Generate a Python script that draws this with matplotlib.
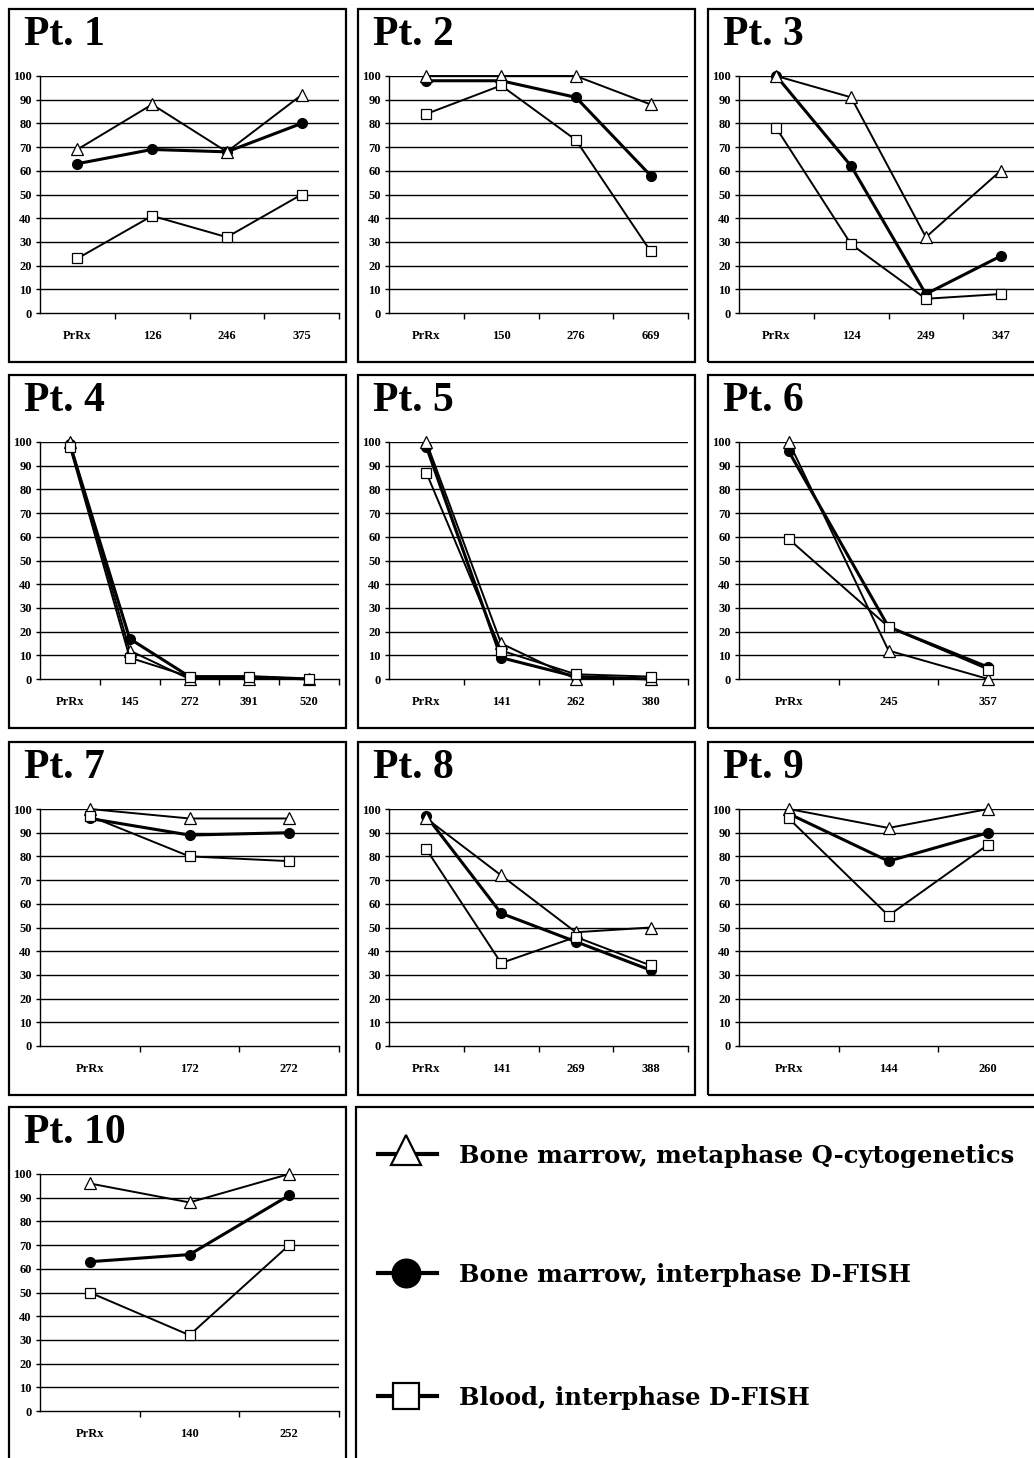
import matplotlib
matplotlib.use("Agg")
import matplotlib.pyplot as plt
from matplotlib.lines import Line2D
from matplotlib.patches import Rectangle

W, H, DPI = 1034, 1458, 100
SERIF = ["Liberation Serif", "DejaVu Serif"]
WIDE_SERIF = ["DejaVu Serif", "Liberation Serif"]

# --- data (percent of abnormal cells) --------------------------------------
PT1_X = ["PrRx", "126", "246", "375"]
PT1_TRI = [69, 88, 68, 92]
PT1_DOT = [63, 69, 68, 80]
PT1_SQ = [23, 41, 32, 50]

PT2_X = ["PrRx", "150", "276", "669"]
PT2_TRI = [100, 100, 100, 88]
PT2_DOT = [98, 98, 91, 58]
PT2_SQ = [84, 96, 73, 26]

PT3_X = ["PrRx", "124", "249", "347"]
PT3_TRI = [100, 91, 32, 60]
PT3_DOT = [100, 62, 8, 24]
PT3_SQ = [78, 29, 6, 8]

PT4_X = ["PrRx", "145", "272", "391", "520"]
PT4_TRI = [100, 12, 0, 0, 0]
PT4_DOT = [99, 17, 1, 1, 0]
PT4_SQ = [98, 9, 1, 1, 0]

PT5_X = ["PrRx", "141", "262", "380"]
PT5_TRI = [100, 15, 0, 0]
PT5_DOT = [98, 9, 1, 0]
PT5_SQ = [87, 12, 2, 1]

PT6_X = ["PrRx", "245", "357"]
PT6_TRI = [100, 12, 0]
PT6_DOT = [96, 22, 5]
PT6_SQ = [59, 22, 4]

PT7_X = ["PrRx", "172", "272"]
PT7_TRI = [100, 96, 96]
PT7_DOT = [96, 89, 90]
PT7_SQ = [97, 80, 78]

PT8_X = ["PrRx", "141", "269", "388"]
PT8_TRI = [96, 72, 48, 50]
PT8_DOT = [97, 56, 44, 32]
PT8_SQ = [83, 35, 46, 34]

PT9_X = ["PrRx", "144", "260"]
PT9_TRI = [100, 92, 100]
PT9_DOT = [98, 78, 90]
PT9_SQ = [96, 55, 85]

PT10_X = ["PrRx", "140", "252"]
PT10_TRI = [96, 88, 100]
PT10_DOT = [63, 66, 91]
PT10_SQ = [50, 32, 70]

LEGEND_LABELS = [
    "Bone marrow, metaphase Q-cytogenetics",
    "Bone marrow, interphase D-FISH",
    "Blood, interphase D-FISH",
]

PANELS = [
    ("Pt. 1", PT1_X, PT1_TRI, PT1_DOT, PT1_SQ),
    ("Pt. 2", PT2_X, PT2_TRI, PT2_DOT, PT2_SQ),
    ("Pt. 3", PT3_X, PT3_TRI, PT3_DOT, PT3_SQ),
    ("Pt. 4", PT4_X, PT4_TRI, PT4_DOT, PT4_SQ),
    ("Pt. 5", PT5_X, PT5_TRI, PT5_DOT, PT5_SQ),
    ("Pt. 6", PT6_X, PT6_TRI, PT6_DOT, PT6_SQ),
    ("Pt. 7", PT7_X, PT7_TRI, PT7_DOT, PT7_SQ),
    ("Pt. 8", PT8_X, PT8_TRI, PT8_DOT, PT8_SQ),
    ("Pt. 9", PT9_X, PT9_TRI, PT9_DOT, PT9_SQ),
    ("Pt. 10", PT10_X, PT10_TRI, PT10_DOT, PT10_SQ),
]

# layout, in pixels of the final image
COL_LEFT = [9, 358, 708]
ROW_TOP = [9, 375, 742, 1107]
BOX_W, BOX_H = 337, 353


def fig_rect(x, y, w, h):
    """pixel box (top-left origin) -> figure fraction [l, b, w, h]"""
    return [x / W, 1 - (y + h) / H, w / W, h / H]


def draw_box(fig, x, y, w, h):
    l, b, ww, hh = fig_rect(x, y, w, h)
    fig.add_artist(Rectangle((l, b), ww, hh, transform=fig.transFigure,
                             fill=False, lw=1.6, ec="black"))


def draw_panel(fig, x0, y0, title, cats, tri, dot, sq):
    draw_box(fig, x0, y0, BOX_W, BOX_H)
    fig.text((x0 + 15) / W, 1 - (y0 + 36) / H, title, family=SERIF,
             fontweight="bold", fontsize=30, va="baseline", ha="left")

    ax = fig.add_axes(fig_rect(x0 + 31, y0 + 67, 299, 237))
    n = len(cats)
    xs = [i + 0.5 for i in range(n)]

    for v in range(10, 101, 10):
        ax.axhline(v, color="black", lw=1.0, zorder=1)

    ax.plot(xs, dot, color="black", lw=2.2, marker="o", ms=7,
            mfc="black", mec="black", zorder=3, clip_on=False)
    ax.plot(xs, tri, color="black", lw=1.4, marker="^", ms=8,
            mfc="white", mec="black", mew=0.9, zorder=4, clip_on=False)
    ax.plot(xs, sq, color="black", lw=1.4, marker="s", ms=7.5,
            mfc="white", mec="black", mew=0.9, zorder=5, clip_on=False)

    ax.set_xlim(0, n)
    ax.set_ylim(0, 100)
    for side in ("top", "right"):
        ax.spines[side].set_visible(False)
    ax.spines["left"].set_linewidth(1.0)
    ax.spines["bottom"].set_linewidth(1.0)

    ax.set_yticks(range(0, 101, 10))
    ax.set_yticklabels([str(v) for v in range(0, 101, 10)])
    ax.tick_params(axis="y", length=3, width=1.0, pad=3, labelsize=9)

    ax.set_xticks(range(1, n + 1))
    ax.set_xticklabels([])
    ax.tick_params(axis="x", which="major", length=4, width=1.0)
    ax.set_xticks(xs, minor=True)
    ax.set_xticklabels(cats, minor=True)
    ax.tick_params(axis="x", which="minor", length=0, pad=12, labelsize=9)

    for lab in ax.get_yticklabels() + ax.get_xticklabels(minor=True):
        lab.set_family(SERIF)
        lab.set_fontweight("bold")
    ax.patch.set_alpha(0)


def draw_legend(fig, x0, y0):
    draw_box(fig, x0, y0, 700, BOX_H)
    rows = [1154, 1273, 1396]
    markers = [("^", "white", 22, 1150), ("o", "black", 20, 1273), ("s", "white", 19, 1396)]
    for label, yl, (mk, fc, ms, ym) in zip(LEGEND_LABELS, rows, markers):
        fy = 1 - yl / H
        fig.add_artist(Line2D([378 / W, 437 / W], [fy, fy], color="black",
                              lw=3, transform=fig.transFigure))
        fig.add_artist(Line2D([406 / W], [1 - ym / H], marker=mk, ms=ms,
                              mfc=fc, mec="black", mew=1.6, lw=0,
                              transform=fig.transFigure))
        fig.text(459 / W, 1 - (yl + 9) / H, label, family=WIDE_SERIF,
                 fontweight="bold", fontsize=17.5, va="baseline", ha="left")


fig = plt.figure(figsize=(W / DPI, H / DPI), dpi=DPI)
fig.patch.set_facecolor("white")

for i, (title, cats, tri, dot, sq) in enumerate(PANELS):
    col, row = i % 3, i // 3
    draw_panel(fig, COL_LEFT[col], ROW_TOP[row], title, cats, tri, dot, sq)

draw_legend(fig, 356, ROW_TOP[3])

fig.savefig("out.png", dpi=DPI)
